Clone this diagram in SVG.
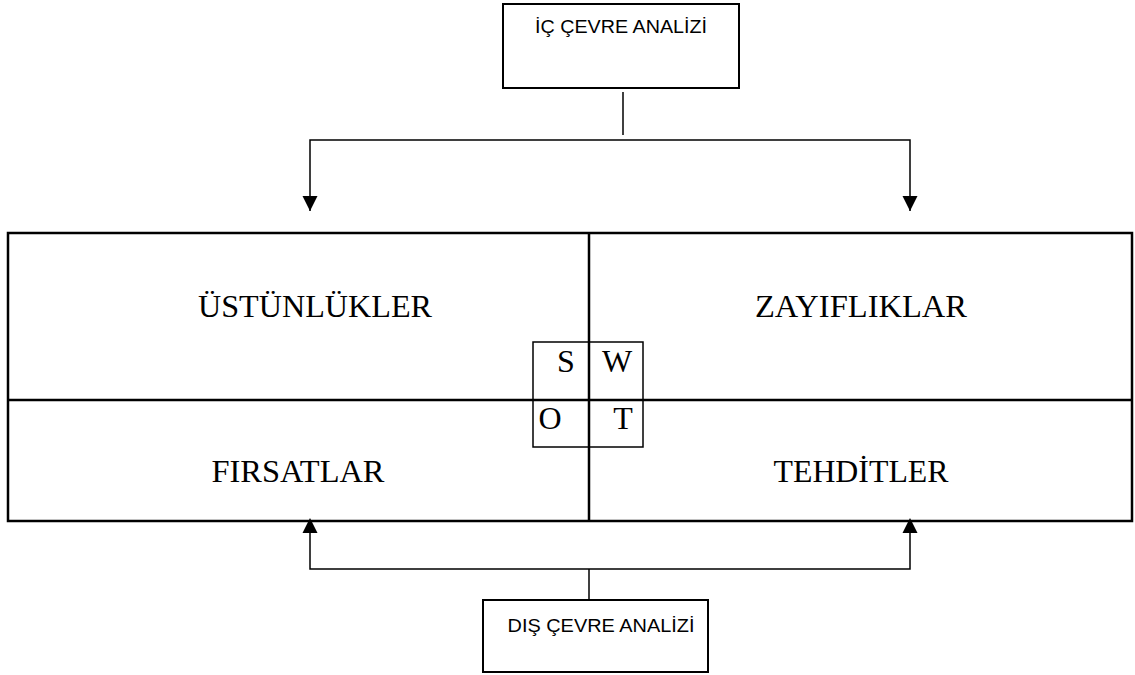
<svg xmlns="http://www.w3.org/2000/svg" width="1135" height="675" viewBox="0 0 1135 675">
<style>
.box{fill:#fff;stroke:#000;stroke-width:2}
.ln{fill:none;stroke:#000;stroke-width:2.5}
.thin{fill:none;stroke:#000;stroke-width:1.5}
.sm{font-family:"Liberation Sans",sans-serif;font-size:19px;fill:#000;text-anchor:middle}
.big{font-family:"Liberation Serif",serif;font-size:32px;fill:#000;text-anchor:middle}
</style>
<rect width="1135" height="675" fill="#fff"/>
<g id="ic-cevre">
<rect class="box" x="503" y="4" width="236" height="84"/>
<text class="sm" x="621" y="33" textLength="172" lengthAdjust="spacingAndGlyphs">İÇ ÇEVRE ANALİZİ</text>
</g>
<g id="dis-cevre">
<rect class="box" x="483" y="600" width="225" height="72"/>
<text class="sm" x="601" y="632" textLength="187" lengthAdjust="spacingAndGlyphs">DIŞ ÇEVRE ANALİZİ</text>
</g>
<g id="swot-matrix">
<rect class="ln" x="8" y="233" width="1124" height="288"/>
<line class="ln" x1="8" y1="400" x2="1132" y2="400"/>
<line class="ln" x1="589" y1="233" x2="589" y2="521"/>
</g>
<g id="ustunlukler"><text class="big" x="315" y="317" textLength="234" lengthAdjust="spacingAndGlyphs">ÜSTÜNLÜKLER</text></g>
<g id="zayifliklar"><text class="big" x="861" y="317" textLength="212" lengthAdjust="spacingAndGlyphs">ZAYIFLIKLAR</text></g>
<g id="firsatlar"><text class="big" x="298" y="482" textLength="173" lengthAdjust="spacingAndGlyphs">FIRSATLAR</text></g>
<g id="tehditler"><text class="big" x="861" y="482" textLength="175" lengthAdjust="spacingAndGlyphs">TEHDİTLER</text></g>
<g id="swot-key">
<rect class="thin" x="533" y="342" width="110" height="105"/>
<text class="big" x="566" y="372" font-size="30">S</text>
<text class="big" x="617" y="372" font-size="30">W</text>
<text class="big" x="550" y="429" font-size="30">O</text>
<text class="big" x="623" y="429" font-size="30">T</text>
</g>
<g id="connectors">
<line class="thin" x1="623" y1="92" x2="623" y2="135"/>
<polyline class="thin" points="310,211 310,140 910,140 910,211" fill="none"/>
<path d="M302.5,196 L317.5,196 L310,211 Z" fill="#000"/>
<path d="M902.5,196 L917.5,196 L910,211 Z" fill="#000"/>
<line class="thin" x1="589" y1="569" x2="589" y2="600"/>
<polyline class="thin" points="310,533 310,569 910,569 910,533" fill="none"/>
<path d="M302.5,533 L317.5,533 L310,518 Z" fill="#000"/>
<path d="M902.5,533 L917.5,533 L910,518 Z" fill="#000"/>
</g>
</svg>
